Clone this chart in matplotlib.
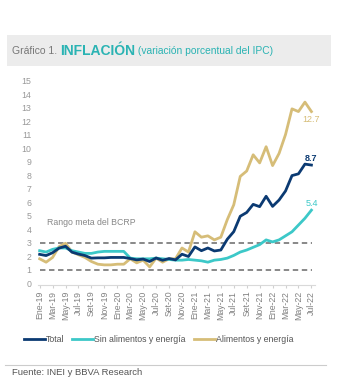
import numpy as np
import matplotlib.pyplot as plt
from matplotlib.transforms import offset_copy

plt.rcParams['font.family'] = ['Liberation Sans', 'DejaVu Sans']

months = ['Ene', 'Feb', 'Mar', 'Abr', 'May', 'Jun', 'Jul', 'Ago', 'Set', 'Oct', 'Nov', 'Dic']
fechas = [f'{m}-{y}' for y in ['19', '20', '21', '22'] for m in months][:43]

total = [2.13, 2.04, 2.25, 2.59, 2.73, 2.29, 2.15, 2.04, 1.85, 1.87, 1.87, 1.90,
         1.90, 1.90, 1.82, 1.72, 1.78, 1.60, 1.86, 1.69, 1.82, 1.72, 2.14, 1.97,
         2.68, 2.40, 2.60, 2.38, 2.45, 3.25, 3.81, 4.95, 5.23, 5.83, 5.66, 6.43,
         5.68, 6.15, 6.82, 7.96, 8.09, 8.81, 8.74]
sin_ae = [2.40, 2.30, 2.50, 2.60, 2.60, 2.40, 2.30, 2.20, 2.20, 2.30, 2.35, 2.35,
          2.35, 2.35, 1.85, 1.80, 1.80, 1.80, 1.85, 1.80, 1.75, 1.70, 1.70, 1.75,
          1.70, 1.65, 1.55, 1.70, 1.75, 1.85, 2.05, 2.30, 2.45, 2.65, 2.85, 3.20,
          3.05, 3.20, 3.50, 3.80, 4.30, 4.80, 5.40]
ali_en = [1.80, 1.55, 1.90, 2.70, 2.95, 2.30, 2.10, 1.90, 1.60, 1.40, 1.35, 1.35,
          1.40, 1.40, 1.80, 1.50, 1.70, 1.20, 1.85, 1.55, 1.80, 1.80, 2.60, 2.30,
          3.80, 3.40, 3.50, 3.20, 3.40, 4.70, 5.80, 7.90, 8.30, 9.50, 8.90, 10.10,
          8.70, 9.60, 11.00, 12.90, 12.70, 13.40, 12.70]

c_total = '#0b3a72'
c_sin = '#3cc8c8'
c_ali = '#d6bd78'

fig = plt.figure(figsize=(3.5, 3.89), dpi=100)
fig.patches.append(plt.Rectangle((0.02, 0.83), 0.925, 0.08, transform=fig.transFigure,
                                 facecolor='#ececec', edgecolor='none'))

# title pieces placed one after another
renderer = fig.canvas.get_renderer()
t1 = fig.text(0.035, 0.87, 'Gráfico 1. ', fontsize=7.5, color='#777777', va='center')
w1 = t1.get_window_extent(renderer).width
t2 = fig.text(0.035, 0.87, 'INFLACIÓN', fontsize=10, color='#2ab3b3', fontweight='bold', va='center',
              transform=offset_copy(fig.transFigure, fig=fig, x=w1, y=0, units='dots'))
w2 = t2.get_window_extent(renderer).width
fig.text(0.035, 0.87, ' (variación porcentual del IPC)', fontsize=7.4, color='#2ab3b3', va='center',
         transform=offset_copy(fig.transFigure, fig=fig, x=w1 + w2, y=0, units='dots'))

ax = fig.add_axes([0.109, 0.267, 0.79, 0.533])
x = np.arange(len(fechas))

ax.axhline(3, color='#7f7f7f', ls=(0, (3, 2)), lw=1.3, xmin=0.005, xmax=0.99)
ax.axhline(1, color='#7f7f7f', ls=(0, (3, 2)), lw=1.3, xmin=0.005, xmax=0.99)
ax.text(1.2, 4.5, 'Rango meta del BCRP', fontsize=6.3, color='#888888', va='center')

ax.plot(x, ali_en, color=c_ali, lw=2, label='Alimentos y energía', zorder=3)
ax.plot(x, sin_ae, color=c_sin, lw=2, label='Sin alimentos y energía', zorder=4)
ax.plot(x, total, color=c_total, lw=2, label='Total', zorder=5)

ax.text(42, ali_en[-1] - 0.6, f'{ali_en[-1]:.1f}', color=c_ali, fontsize=6.5, ha='center', va='center')
ax.text(42, total[-1] + 0.45, f'{total[-1]:.1f}', color=c_total, fontsize=6.5, ha='center', va='center', fontweight='bold')
ax.text(42, sin_ae[-1] + 0.5, f'{sin_ae[-1]:.1f}', color=c_sin, fontsize=6.5, ha='center', va='center')

ax.set_xlim(-0.23, 42.5)
ax.set_ylim(-0.15, 15.2)
ax.set_yticks(range(0, 16))
ax.set_xticks(x[::2])
ax.set_xticklabels(fechas[::2], rotation=90, fontsize=6.3, color='#808080')
ax.tick_params(axis='y', length=0, labelsize=6.3, labelcolor='#999999', pad=5)
ax.tick_params(axis='x', length=2, color='#d0d0d0', pad=2)
for s in ['top', 'right', 'left']:
    ax.spines[s].set_visible(False)
ax.spines['bottom'].set_color('#d9d9d9')

h, l = ax.get_legend_handles_labels()
fig.legend(h[::-1], l[::-1], loc='center', bbox_to_anchor=(0.453, 0.126), ncol=3, frameon=False,
           fontsize=6.3, handlelength=2.4, columnspacing=0.9, handletextpad=0.12,
           labelcolor='#555555')

fig.add_artist(plt.Line2D([0.015, 0.93], [0.062, 0.062], color='#cccccc', lw=0.8))
fig.text(0.035, 0.043, 'Fuente: INEI y BBVA Research', fontsize=6.8, color='#555555', va='center')

fig.savefig('out.png', dpi=100, facecolor='white')
